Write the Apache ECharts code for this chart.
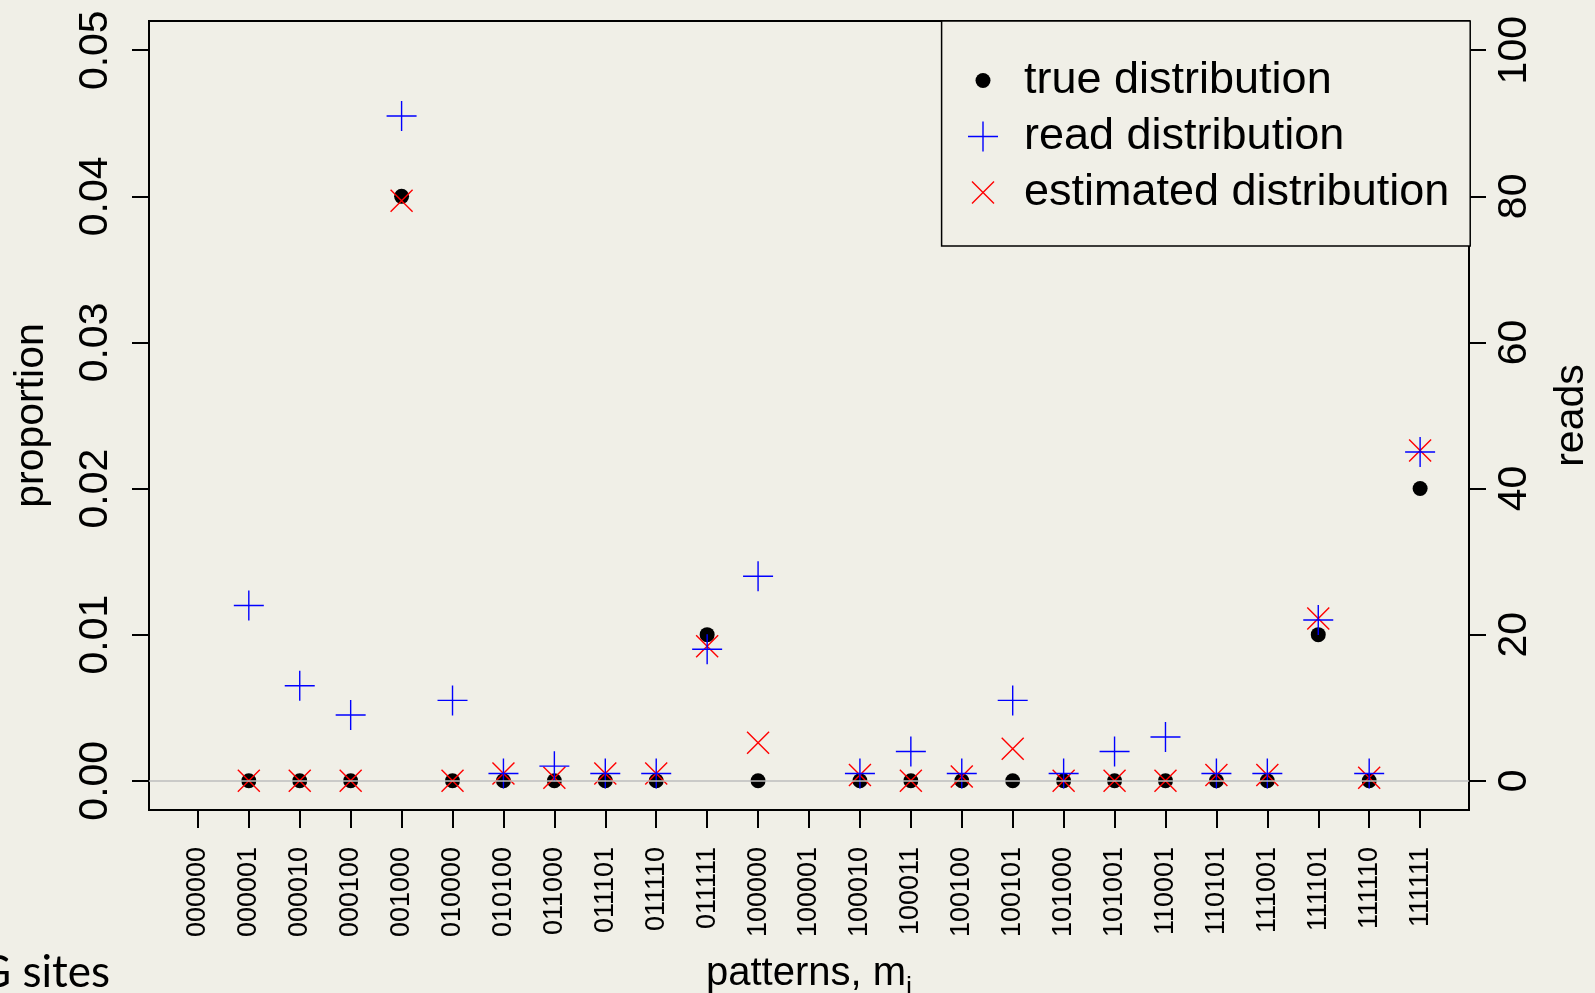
<!DOCTYPE html>
<html>
<head>
<meta charset="utf-8">
<script src="https://cdn.jsdelivr.net/npm/echarts@6.0.0/dist/echarts.min.js"></script>
<style>
    html, body { margin: 0; padding: 0; background: #f0efe7; }
    #chart { width: 1595px; height: 993px; }
</style>
</head>
<body>
<div id="chart"></div>
<script>
    // methylation patterns on the x axis
    var patterns = ['000000', '000001', '000010', '000100', '001000', '010000', '010100', '011000',
        '011101', '011110', '011111', '100000', '100001', '100010', '100011', '100100', '100101',
        '101000', '101001', '110001', '110101', '111001', '111101', '111110', '111111']
    // proportion (left axis)
    var trueProp = [null, 0, 0, 0, 0.04, 0, 0, 0, 0, 0, 0.01, 0, null, 0, 0, 0, 0, 0, 0, 0, 0, 0, 0.01, 0, 0.02]
    var estProp = [null, 0, 0, 0, 0.0397, 0, 0.0005, 0.0002, 0.0005, 0.0005, 0.0092, 0.0026, null,
        0.0004, 0, 0.0003, 0.0022, 0, 0, 0, 0.0004, 0.0004, 0.0111, 0.0002, 0.0226]
    // reads (right axis)
    var readCounts = [null, 24, 13, 9, 91, 11, 1, 2, 1, 1, 18, 28, null, 1, 4, 1, 11, 1, 4, 6, 1, 1, 22, 1, 45]
    var propTicks = [0, 0.01, 0.02, 0.03, 0.04, 0.05]
    var readTicks = [0, 20, 40, 60, 80, 100]

    // symbols drawn in a 32x32 box, the first two moveTo's pin the box size
    var dotPath = 'path://M0,0 M32,32 M8.5,16 A7.5,7.5 0 1,0 23.5,16 A7.5,7.5 0 1,0 8.5,16 Z'
    var plusPath = 'path://M0,0 M32,32 M1,15.3 L31,15.3 L31,16.7 L1,16.7 Z M15.3,1 L16.7,1 L16.7,31 L15.3,31 Z'
    var crossPath = 'path://M0,0 M32,32 M4.505,5.495 L5.495,4.505 L27.495,26.505 L26.505,27.495 Z ' +
        'M27.495,5.495 L5.495,27.495 L4.505,26.505 L26.505,4.505 Z'

    var font = 'Liberation Sans'

    function points(arr) {
        var out = []
        for (var i = 0; i < arr.length; i++) {
            if (arr[i] !== null) out.push([i + 1, arr[i]])
        }
        return out
    }

    var xTicks = patterns.map(function (p, i) { return i + 1 })

    function yAxis(ticks, min, max, fmt, name, gap, margin) {
        return {
            type: 'value',
            min: min,
            max: max,
            name: name,
            nameLocation: 'middle',
            nameGap: gap,
            nameTextStyle: { fontFamily: font, fontSize: 41, color: '#000' },
            splitLine: { show: false },
            axisLine: { show: false, onZero: false },
            axisTick: { show: true, customValues: ticks, length: 17, lineStyle: { color: '#000', width: 2 } },
            axisLabel: {
                customValues: ticks,
                rotate: 90,
                margin: margin,
                fontFamily: font,
                fontSize: 41,
                color: '#000',
                formatter: fmt
            }
        }
    }

    var option = {
        backgroundColor: '#f0efe7',
        animation: false,
        grid: {
            left: 149, right: 126, top: 21, bottom: 183,
            show: true, borderColor: '#000', borderWidth: 2,
            containLabel: false, outerBoundsMode: 'none'
        },
        legend: {
            orient: 'vertical',
            left: 941.6,
            top: 21,
            padding: [37, 21, 31, 25.4],
            itemGap: 11,
            itemWidth: 72,
            itemHeight: 32,
            borderColor: '#000',
            borderWidth: 1.5,
            backgroundColor: '#f0efe7',
            textStyle: { fontFamily: font, fontSize: 45, color: '#000' },
            data: [
                { name: 'true distribution', icon: dotPath },
                { name: 'read distribution', icon: plusPath },
                { name: 'estimated distribution', icon: crossPath }
            ]
        },
        graphic: [{
            type: 'text',
            left: -21,
            top: 951,
            style: { text: 'G sites', font: '44px Lato', fill: '#000' }
        }],
        xAxis: {
            type: 'value',
            min: 0.04,
            max: 25.96,
            name: '{n|patterns, m}{s|i}',
            nameLocation: 'middle',
            nameGap: 144,
            nameTextStyle: {
                rich: {
                    n: { fontFamily: font, fontSize: 40, color: '#000', verticalAlign: 'top' },
                    s: { fontFamily: font, fontSize: 27, color: '#000', verticalAlign: 'top', padding: [21, 0, 0, 0] }
                }
            },
            splitLine: { show: false },
            axisLine: { show: false, onZero: false },
            axisTick: { show: true, customValues: xTicks, length: 18, lineStyle: { color: '#000', width: 2 } },
            axisLabel: {
                customValues: xTicks,
                rotate: 90,
                margin: 37,
                fontFamily: font,
                fontSize: 27,
                color: '#000',
                formatter: function (v) { return patterns[Math.round(v) - 1] }
            }
        },
        yAxis: [
            yAxis(propTicks, -0.002, 0.052, function (v) { return v.toFixed(2) }, 'proportion', 97, 33),
            yAxis(readTicks, -4, 104, function (v) { return String(v) }, 'reads', 82, 25)
        ],
        series: [
            {
                name: 'true distribution',
                type: 'scatter',
                yAxisIndex: 0,
                symbol: dotPath,
                symbolSize: 32,
                itemStyle: { color: '#000', opacity: 1 },
                emphasis: { disabled: true },
                data: points(trueProp)
            },
            {
                name: 'estimated distribution',
                type: 'scatter',
                yAxisIndex: 0,
                symbol: crossPath,
                symbolSize: 32,
                itemStyle: { color: '#ff0000', opacity: 1 },
                emphasis: { disabled: true },
                data: points(estProp)
            },
            {
                name: 'read distribution',
                type: 'scatter',
                yAxisIndex: 1,
                symbol: plusPath,
                symbolSize: 32,
                itemStyle: { color: '#0000ff', opacity: 1 },
                emphasis: { disabled: true },
                data: points(readCounts),
                markLine: {
                    silent: true,
                    symbol: 'none',
                    label: { show: false },
                    lineStyle: { color: '#bebebe', width: 1.5, type: 'solid' },
                    data: [{ yAxis: 0 }]
                }
            }
        ]
    }

    echarts.init(document.getElementById('chart')).setOption(option)
</script>
</body>
</html>
